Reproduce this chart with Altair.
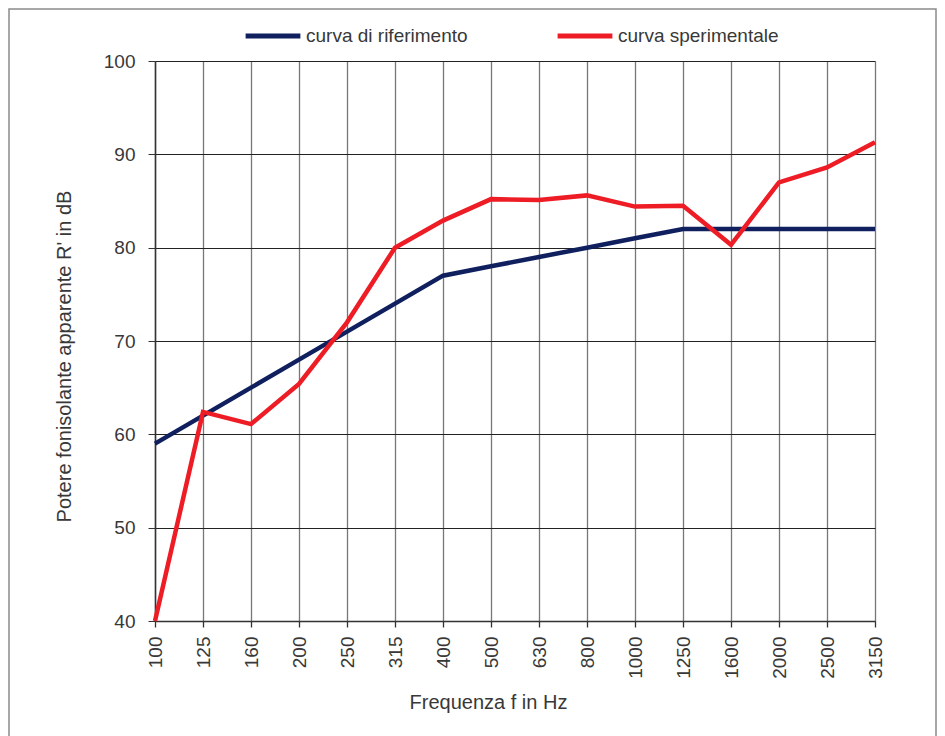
import altair as alt
import pandas as pd

freqs = ["100", "125", "160", "200", "250", "315", "400", "500", "630", "800",
         "1000", "1250", "1600", "2000", "2500", "3150"]
riferimento = [59, 62, 65, 68, 71, 74, 77, 78, 79, 80, 81, 82, 82, 82, 82, 82]
sperimentale = [40, 62.4, 61.1, 65.4, 72.0, 80.0, 82.9, 85.2, 85.1, 85.6,
                84.4, 84.5, 80.3, 87.0, 88.6, 91.3]
series_names = ["curva di riferimento", "curva sperimentale"]
series_colors = ["#10205f", "#ee1c25"]

rows = []
for i, f in enumerate(freqs):
    rows.append({"f": f, "v": riferimento[i], "s": series_names[0], "o": i})
    rows.append({"f": f, "v": sperimentale[i], "s": series_names[1], "o": i})
df = pd.DataFrame(rows)

FONT = "Liberation Sans"
TXT = "#383838"

frame = alt.Chart(pd.DataFrame({"a": [0]})).mark_rect(
    fill="transparent", stroke="#8a8a8a", strokeWidth=1.5, clip=False
).encode(
    x=alt.value(-146), x2=alt.value(781), y=alt.value(-52), y2=alt.value(700)
)

lines = alt.Chart(df).mark_line(strokeWidth=4.5, strokeJoin="miter", clip=False).encode(
    x=alt.X("f:O", sort=freqs,
            scale=alt.Scale(type="point", padding=0),
            axis=alt.Axis(title="Frequenza f in Hz", labelAngle=-90,
                          labelAlign="right", labelBaseline="middle",
                          labelPadding=9, tickSize=6, grid=True,
                          gridColor="#777777", gridWidth=1.3,
                          domainColor="#333333", domainWidth=1.5,
                          tickColor="#333333", tickWidth=1.3,
                          titlePadding=14, titleX=333)),
    y=alt.Y("v:Q", scale=alt.Scale(domain=[40, 100], nice=False),
            axis=alt.Axis(title="Potere fonisolante apparente R' in dB",
                          values=[40, 50, 60, 70, 80, 90, 100],
                          tickSize=7, labelPadding=13, grid=True,
                          gridColor="#222222", gridWidth=1,
                          domainColor="#333333", domainWidth=1.5,
                          tickColor="#333333", titlePadding=29, titleY=295)),
    color=alt.Color("s:N", scale=alt.Scale(domain=series_names, range=series_colors),
                    legend=alt.Legend(title=None, orient="none", direction="horizontal",
                                      legendX=88, legendY=-55,
                                      symbolType="stroke", symbolSize=3000,
                                      symbolStrokeWidth=5, columnPadding=79,
                                      labelFontSize=19, labelFont=FONT,
                                      labelColor=TXT, labelOffset=3,
                                      labelLimit=300)),
    order="o:Q",
)

chart = alt.layer(frame, lines).properties(
    width=720, height=560,
    autosize=alt.AutoSizeParams(type="none"),
    padding={"left": 147, "top": 53, "right": 62, "bottom": 115},
).configure_axis(
    labelFont=FONT, titleFont=FONT, labelFontSize=19, titleFontSize=20,
    labelColor=TXT, titleColor=TXT, titleFontWeight="normal",
).configure_view(stroke=None)

chart.save("out.html", embed_options={"renderer": "svg", "actions": False})
